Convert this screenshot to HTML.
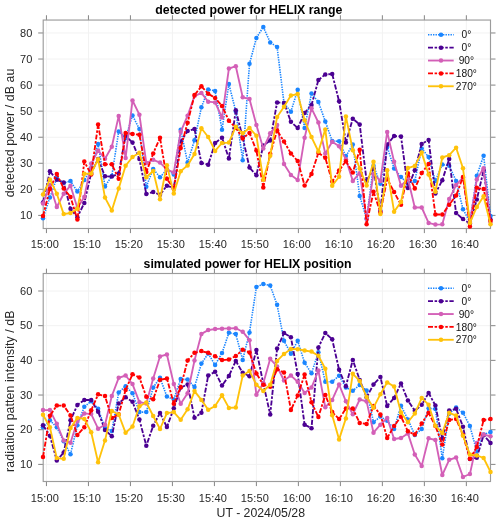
<!DOCTYPE html>
<html lang="en"><head><meta charset="utf-8"><title>HELIX power</title>
<style>html,body{margin:0;padding:0;background:#fff;}body{width:500px;height:523px;overflow:hidden;}svg{display:block;will-change:transform;}text{font-family:'Liberation Sans', Arial, Helvetica, sans-serif;fill:#262626;}.tk{font-size:11px;letter-spacing:0.15px;}.ti{font-size:12.3px;font-weight:bold;fill:#000;}.al{font-size:12.3px;}.lg{font-size:10.2px;fill:#111;}</style></head><body>
<svg width="500" height="523" viewBox="0 0 500 523">
<rect x="0" y="0" width="500" height="523" fill="#ffffff"/>
<g>
<path d="M46.45 20.05V228.50M88.44 20.05V228.50M130.43 20.05V228.50M172.42 20.05V228.50M214.41 20.05V228.50M256.40 20.05V228.50M298.39 20.05V228.50M340.38 20.05V228.50M382.37 20.05V228.50M424.36 20.05V228.50M466.35 20.05V228.50M43.20 215.40H490.50M43.20 189.34H490.50M43.20 163.28H490.50M43.20 137.22H490.50M43.20 111.16H490.50M43.20 85.10H490.50M43.20 59.04H490.50M43.20 32.98H490.50" stroke="#f2f2f2" stroke-width="1" fill="none"/>
<path d="M46.45 20.05v-4.8M46.45 228.50v4.6M88.44 20.05v-4.8M88.44 228.50v4.6M130.43 20.05v-4.8M130.43 228.50v4.6M172.42 20.05v-4.8M172.42 228.50v4.6M214.41 20.05v-4.8M214.41 228.50v4.6M256.40 20.05v-4.8M256.40 228.50v4.6M298.39 20.05v-4.8M298.39 228.50v4.6M340.38 20.05v-4.8M340.38 228.50v4.6M382.37 20.05v-4.8M382.37 228.50v4.6M424.36 20.05v-4.8M424.36 228.50v4.6M466.35 20.05v-4.8M466.35 228.50v4.6M43.20 215.40h-5M490.50 215.40h5M43.20 189.34h-5M490.50 189.34h5M43.20 163.28h-5M490.50 163.28h5M43.20 137.22h-5M490.50 137.22h5M43.20 111.16h-5M490.50 111.16h5M43.20 85.10h-5M490.50 85.10h5M43.20 59.04h-5M490.50 59.04h5M43.20 32.98h-5M490.50 32.98h5" stroke="#777777" stroke-width="0.9" fill="none"/>
<rect x="43.20" y="20.05" width="447.30" height="208.45" fill="none" stroke="#9c9c9c" stroke-width="1.15"/>
<polyline points="43.0,218.2 49.9,197.6 56.8,178.0 63.7,182.9 70.5,181.1 77.4,191.6 84.3,180.1 91.2,168.0 98.1,144.0 105.0,186.4 111.8,176.0 118.7,131.5 125.6,138.0 132.5,115.4 139.4,129.0 146.3,186.7 153.2,168.9 160.0,177.3 166.9,169.5 173.8,174.5 180.7,129.7 187.6,162.6 194.5,140.2 201.4,107.3 208.2,89.5 215.1,90.9 222.0,129.7 228.9,84.1 235.8,111.5 242.7,160.2 249.5,63.8 256.4,37.9 263.3,27.0 270.2,42.4 277.1,47.0 284.0,103.0 290.9,111.7 297.7,89.8 304.6,127.9 311.5,93.6 318.4,102.0 325.3,121.4 332.2,141.0 339.1,141.3 345.9,156.1 352.8,144.6 359.7,195.9 366.6,218.7 373.5,165.8 380.4,183.7 387.2,146.9 394.1,168.4 401.0,177.1 407.9,183.7 414.8,180.9 421.7,148.4 428.6,157.1 435.4,180.9 442.3,164.5 449.2,165.7 456.1,180.9 463.0,209.3 469.9,222.0 476.8,175.7 483.6,155.7 490.5,215.9" fill="none" stroke="#1A85FF" stroke-width="1.60" stroke-linejoin="round" stroke-dasharray="1.4 1.1"/>
<g fill="#1A85FF"><circle cx="43.0" cy="218.2" r="2.25"/><circle cx="49.9" cy="197.6" r="2.25"/><circle cx="56.8" cy="178.0" r="2.25"/><circle cx="63.7" cy="182.9" r="2.25"/><circle cx="70.5" cy="181.1" r="2.25"/><circle cx="77.4" cy="191.6" r="2.25"/><circle cx="84.3" cy="180.1" r="2.25"/><circle cx="91.2" cy="168.0" r="2.25"/><circle cx="98.1" cy="144.0" r="2.25"/><circle cx="105.0" cy="186.4" r="2.25"/><circle cx="111.8" cy="176.0" r="2.25"/><circle cx="118.7" cy="131.5" r="2.25"/><circle cx="125.6" cy="138.0" r="2.25"/><circle cx="132.5" cy="115.4" r="2.25"/><circle cx="139.4" cy="129.0" r="2.25"/><circle cx="146.3" cy="186.7" r="2.25"/><circle cx="153.2" cy="168.9" r="2.25"/><circle cx="160.0" cy="177.3" r="2.25"/><circle cx="166.9" cy="169.5" r="2.25"/><circle cx="173.8" cy="174.5" r="2.25"/><circle cx="180.7" cy="129.7" r="2.25"/><circle cx="187.6" cy="162.6" r="2.25"/><circle cx="194.5" cy="140.2" r="2.25"/><circle cx="201.4" cy="107.3" r="2.25"/><circle cx="208.2" cy="89.5" r="2.25"/><circle cx="215.1" cy="90.9" r="2.25"/><circle cx="222.0" cy="129.7" r="2.25"/><circle cx="228.9" cy="84.1" r="2.25"/><circle cx="235.8" cy="111.5" r="2.25"/><circle cx="242.7" cy="160.2" r="2.25"/><circle cx="249.5" cy="63.8" r="2.25"/><circle cx="256.4" cy="37.9" r="2.25"/><circle cx="263.3" cy="27.0" r="2.25"/><circle cx="270.2" cy="42.4" r="2.25"/><circle cx="277.1" cy="47.0" r="2.25"/><circle cx="284.0" cy="103.0" r="2.25"/><circle cx="290.9" cy="111.7" r="2.25"/><circle cx="297.7" cy="89.8" r="2.25"/><circle cx="304.6" cy="127.9" r="2.25"/><circle cx="311.5" cy="93.6" r="2.25"/><circle cx="318.4" cy="102.0" r="2.25"/><circle cx="325.3" cy="121.4" r="2.25"/><circle cx="332.2" cy="141.0" r="2.25"/><circle cx="339.1" cy="141.3" r="2.25"/><circle cx="345.9" cy="156.1" r="2.25"/><circle cx="352.8" cy="144.6" r="2.25"/><circle cx="359.7" cy="195.9" r="2.25"/><circle cx="366.6" cy="218.7" r="2.25"/><circle cx="373.5" cy="165.8" r="2.25"/><circle cx="380.4" cy="183.7" r="2.25"/><circle cx="387.2" cy="146.9" r="2.25"/><circle cx="394.1" cy="168.4" r="2.25"/><circle cx="401.0" cy="177.1" r="2.25"/><circle cx="407.9" cy="183.7" r="2.25"/><circle cx="414.8" cy="180.9" r="2.25"/><circle cx="421.7" cy="148.4" r="2.25"/><circle cx="428.6" cy="157.1" r="2.25"/><circle cx="435.4" cy="180.9" r="2.25"/><circle cx="442.3" cy="164.5" r="2.25"/><circle cx="449.2" cy="165.7" r="2.25"/><circle cx="456.1" cy="180.9" r="2.25"/><circle cx="463.0" cy="209.3" r="2.25"/><circle cx="469.9" cy="222.0" r="2.25"/><circle cx="476.8" cy="175.7" r="2.25"/><circle cx="483.6" cy="155.7" r="2.25"/><circle cx="490.5" cy="215.9" r="2.25"/></g>
<polyline points="43.0,202.5 49.9,171.3 56.8,179.8 63.7,182.6 70.5,208.8 77.4,217.2 84.3,202.9 91.2,173.0 98.1,159.0 105.0,176.3 111.8,176.6 118.7,173.5 125.6,135.8 132.5,142.5 139.4,159.0 146.3,194.1 153.2,192.0 160.0,194.8 166.9,185.7 173.8,188.0 180.7,141.6 187.6,131.1 194.5,129.0 201.4,162.9 208.2,164.7 215.1,143.0 222.0,137.7 228.9,158.5 235.8,110.2 242.7,137.6 249.5,167.6 256.4,175.2 263.3,145.4 270.2,140.6 277.1,102.5 284.0,102.9 290.9,121.8 297.7,128.0 304.6,112.9 311.5,105.1 318.4,80.0 325.3,74.4 332.2,74.0 339.1,101.3 345.9,142.4 352.8,118.7 359.7,124.5 366.6,180.9 373.5,168.5 380.4,211.0 387.2,144.5 394.1,136.1 401.0,136.4 407.9,187.9 414.8,170.3 421.7,143.9 428.6,140.0 435.4,193.5 442.3,180.2 449.2,158.9 456.1,213.1 463.0,219.1 469.9,223.6 476.8,199.6 483.6,170.4 490.5,219.4" fill="none" stroke="#4B0092" stroke-width="1.85" stroke-linejoin="round" stroke-dasharray="5 1.6 2.5 1.6"/>
<g fill="#4B0092"><circle cx="43.0" cy="202.5" r="2.25"/><circle cx="49.9" cy="171.3" r="2.25"/><circle cx="56.8" cy="179.8" r="2.25"/><circle cx="63.7" cy="182.6" r="2.25"/><circle cx="70.5" cy="208.8" r="2.25"/><circle cx="77.4" cy="217.2" r="2.25"/><circle cx="84.3" cy="202.9" r="2.25"/><circle cx="91.2" cy="173.0" r="2.25"/><circle cx="98.1" cy="159.0" r="2.25"/><circle cx="105.0" cy="176.3" r="2.25"/><circle cx="111.8" cy="176.6" r="2.25"/><circle cx="118.7" cy="173.5" r="2.25"/><circle cx="125.6" cy="135.8" r="2.25"/><circle cx="132.5" cy="142.5" r="2.25"/><circle cx="139.4" cy="159.0" r="2.25"/><circle cx="146.3" cy="194.1" r="2.25"/><circle cx="153.2" cy="192.0" r="2.25"/><circle cx="160.0" cy="194.8" r="2.25"/><circle cx="166.9" cy="185.7" r="2.25"/><circle cx="173.8" cy="188.0" r="2.25"/><circle cx="180.7" cy="141.6" r="2.25"/><circle cx="187.6" cy="131.1" r="2.25"/><circle cx="194.5" cy="129.0" r="2.25"/><circle cx="201.4" cy="162.9" r="2.25"/><circle cx="208.2" cy="164.7" r="2.25"/><circle cx="215.1" cy="143.0" r="2.25"/><circle cx="222.0" cy="137.7" r="2.25"/><circle cx="228.9" cy="158.5" r="2.25"/><circle cx="235.8" cy="110.2" r="2.25"/><circle cx="242.7" cy="137.6" r="2.25"/><circle cx="249.5" cy="167.6" r="2.25"/><circle cx="256.4" cy="175.2" r="2.25"/><circle cx="263.3" cy="145.4" r="2.25"/><circle cx="270.2" cy="140.6" r="2.25"/><circle cx="277.1" cy="102.5" r="2.25"/><circle cx="284.0" cy="102.9" r="2.25"/><circle cx="290.9" cy="121.8" r="2.25"/><circle cx="297.7" cy="128.0" r="2.25"/><circle cx="304.6" cy="112.9" r="2.25"/><circle cx="311.5" cy="105.1" r="2.25"/><circle cx="318.4" cy="80.0" r="2.25"/><circle cx="325.3" cy="74.4" r="2.25"/><circle cx="332.2" cy="74.0" r="2.25"/><circle cx="339.1" cy="101.3" r="2.25"/><circle cx="345.9" cy="142.4" r="2.25"/><circle cx="352.8" cy="118.7" r="2.25"/><circle cx="359.7" cy="124.5" r="2.25"/><circle cx="366.6" cy="180.9" r="2.25"/><circle cx="373.5" cy="168.5" r="2.25"/><circle cx="380.4" cy="211.0" r="2.25"/><circle cx="387.2" cy="144.5" r="2.25"/><circle cx="394.1" cy="136.1" r="2.25"/><circle cx="401.0" cy="136.4" r="2.25"/><circle cx="407.9" cy="187.9" r="2.25"/><circle cx="414.8" cy="170.3" r="2.25"/><circle cx="421.7" cy="143.9" r="2.25"/><circle cx="428.6" cy="140.0" r="2.25"/><circle cx="435.4" cy="193.5" r="2.25"/><circle cx="442.3" cy="180.2" r="2.25"/><circle cx="449.2" cy="158.9" r="2.25"/><circle cx="456.1" cy="213.1" r="2.25"/><circle cx="463.0" cy="219.1" r="2.25"/><circle cx="469.9" cy="223.6" r="2.25"/><circle cx="476.8" cy="199.6" r="2.25"/><circle cx="483.6" cy="170.4" r="2.25"/><circle cx="490.5" cy="219.4" r="2.25"/></g>
<polyline points="43.0,203.5 49.9,185.0 56.8,207.0 63.7,193.7 70.5,185.7 77.4,208.1 84.3,196.9 91.2,163.6 98.1,150.7 105.0,158.7 111.8,146.8 118.7,115.9 125.6,157.9 132.5,100.5 139.4,114.7 146.3,163.0 153.2,159.8 160.0,162.6 166.9,169.6 173.8,172.4 180.7,131.8 187.6,115.7 194.5,96.1 201.4,92.9 208.2,101.7 215.1,102.4 222.0,117.5 228.9,68.6 235.8,66.2 242.7,97.3 249.5,99.0 256.4,124.9 263.3,148.5 270.2,133.3 277.1,124.9 284.0,164.0 290.9,174.9 297.7,179.9 304.6,137.8 311.5,108.3 318.4,122.5 325.3,153.6 332.2,141.7 339.1,146.3 345.9,159.2 352.8,180.9 359.7,173.2 366.6,218.7 373.5,173.9 380.4,180.9 387.2,131.9 394.1,161.7 401.0,185.8 407.9,178.8 414.8,207.5 421.7,207.5 428.6,222.9 435.4,224.6 442.3,224.3 449.2,199.1 456.1,185.1 463.0,177.4 469.9,222.0 476.8,179.5 483.6,168.3 490.5,222.0" fill="none" stroke="#D35FB7" stroke-width="1.85" stroke-linejoin="round"/>
<g fill="#D35FB7"><circle cx="43.0" cy="203.5" r="2.25"/><circle cx="49.9" cy="185.0" r="2.25"/><circle cx="56.8" cy="207.0" r="2.25"/><circle cx="63.7" cy="193.7" r="2.25"/><circle cx="70.5" cy="185.7" r="2.25"/><circle cx="77.4" cy="208.1" r="2.25"/><circle cx="84.3" cy="196.9" r="2.25"/><circle cx="91.2" cy="163.6" r="2.25"/><circle cx="98.1" cy="150.7" r="2.25"/><circle cx="105.0" cy="158.7" r="2.25"/><circle cx="111.8" cy="146.8" r="2.25"/><circle cx="118.7" cy="115.9" r="2.25"/><circle cx="125.6" cy="157.9" r="2.25"/><circle cx="132.5" cy="100.5" r="2.25"/><circle cx="139.4" cy="114.7" r="2.25"/><circle cx="146.3" cy="163.0" r="2.25"/><circle cx="153.2" cy="159.8" r="2.25"/><circle cx="160.0" cy="162.6" r="2.25"/><circle cx="166.9" cy="169.6" r="2.25"/><circle cx="173.8" cy="172.4" r="2.25"/><circle cx="180.7" cy="131.8" r="2.25"/><circle cx="187.6" cy="115.7" r="2.25"/><circle cx="194.5" cy="96.1" r="2.25"/><circle cx="201.4" cy="92.9" r="2.25"/><circle cx="208.2" cy="101.7" r="2.25"/><circle cx="215.1" cy="102.4" r="2.25"/><circle cx="222.0" cy="117.5" r="2.25"/><circle cx="228.9" cy="68.6" r="2.25"/><circle cx="235.8" cy="66.2" r="2.25"/><circle cx="242.7" cy="97.3" r="2.25"/><circle cx="249.5" cy="99.0" r="2.25"/><circle cx="256.4" cy="124.9" r="2.25"/><circle cx="263.3" cy="148.5" r="2.25"/><circle cx="270.2" cy="133.3" r="2.25"/><circle cx="277.1" cy="124.9" r="2.25"/><circle cx="284.0" cy="164.0" r="2.25"/><circle cx="290.9" cy="174.9" r="2.25"/><circle cx="297.7" cy="179.9" r="2.25"/><circle cx="304.6" cy="137.8" r="2.25"/><circle cx="311.5" cy="108.3" r="2.25"/><circle cx="318.4" cy="122.5" r="2.25"/><circle cx="325.3" cy="153.6" r="2.25"/><circle cx="332.2" cy="141.7" r="2.25"/><circle cx="339.1" cy="146.3" r="2.25"/><circle cx="345.9" cy="159.2" r="2.25"/><circle cx="352.8" cy="180.9" r="2.25"/><circle cx="359.7" cy="173.2" r="2.25"/><circle cx="366.6" cy="218.7" r="2.25"/><circle cx="373.5" cy="173.9" r="2.25"/><circle cx="380.4" cy="180.9" r="2.25"/><circle cx="387.2" cy="131.9" r="2.25"/><circle cx="394.1" cy="161.7" r="2.25"/><circle cx="401.0" cy="185.8" r="2.25"/><circle cx="407.9" cy="178.8" r="2.25"/><circle cx="414.8" cy="207.5" r="2.25"/><circle cx="421.7" cy="207.5" r="2.25"/><circle cx="428.6" cy="222.9" r="2.25"/><circle cx="435.4" cy="224.6" r="2.25"/><circle cx="442.3" cy="224.3" r="2.25"/><circle cx="449.2" cy="199.1" r="2.25"/><circle cx="456.1" cy="185.1" r="2.25"/><circle cx="463.0" cy="177.4" r="2.25"/><circle cx="469.9" cy="222.0" r="2.25"/><circle cx="476.8" cy="179.5" r="2.25"/><circle cx="483.6" cy="168.3" r="2.25"/><circle cx="490.5" cy="222.0" r="2.25"/></g>
<polyline points="43.0,216.1 49.9,188.9 56.8,174.1 63.7,188.5 70.5,196.9 77.4,219.6 84.3,161.6 91.2,174.5 98.1,124.4 105.0,164.3 111.8,164.3 118.7,178.7 125.6,133.1 132.5,133.9 139.4,134.7 146.3,172.0 153.2,153.5 160.0,137.8 166.9,178.7 173.8,189.0 180.7,147.9 187.6,122.7 194.5,95.1 201.4,86.3 208.2,93.7 215.1,97.9 222.0,105.9 228.9,120.8 235.8,127.7 242.7,138.5 249.5,133.0 256.4,150.6 263.3,187.5 270.2,153.8 277.1,130.5 284.0,141.5 290.9,153.5 297.7,161.0 304.6,185.5 311.5,173.9 318.4,152.9 325.3,157.8 332.2,181.6 339.1,170.4 345.9,161.3 352.8,172.5 359.7,149.7 366.6,224.3 373.5,191.7 380.4,212.4 387.2,178.8 394.1,192.1 401.0,204.7 407.9,173.2 414.8,188.6 421.7,173.0 428.6,164.0 435.4,214.5 442.3,214.5 449.2,204.7 456.1,195.6 463.0,176.9 469.9,226.4 476.8,187.8 483.6,189.0 490.5,220.8" fill="none" stroke="#FF0000" stroke-width="1.85" stroke-linejoin="round" stroke-dasharray="5 1.6 2.5 1.6"/>
<g fill="#FF0000"><circle cx="43.0" cy="216.1" r="2.25"/><circle cx="49.9" cy="188.9" r="2.25"/><circle cx="56.8" cy="174.1" r="2.25"/><circle cx="63.7" cy="188.5" r="2.25"/><circle cx="70.5" cy="196.9" r="2.25"/><circle cx="77.4" cy="219.6" r="2.25"/><circle cx="84.3" cy="161.6" r="2.25"/><circle cx="91.2" cy="174.5" r="2.25"/><circle cx="98.1" cy="124.4" r="2.25"/><circle cx="105.0" cy="164.3" r="2.25"/><circle cx="111.8" cy="164.3" r="2.25"/><circle cx="118.7" cy="178.7" r="2.25"/><circle cx="125.6" cy="133.1" r="2.25"/><circle cx="132.5" cy="133.9" r="2.25"/><circle cx="139.4" cy="134.7" r="2.25"/><circle cx="146.3" cy="172.0" r="2.25"/><circle cx="153.2" cy="153.5" r="2.25"/><circle cx="160.0" cy="137.8" r="2.25"/><circle cx="166.9" cy="178.7" r="2.25"/><circle cx="173.8" cy="189.0" r="2.25"/><circle cx="180.7" cy="147.9" r="2.25"/><circle cx="187.6" cy="122.7" r="2.25"/><circle cx="194.5" cy="95.1" r="2.25"/><circle cx="201.4" cy="86.3" r="2.25"/><circle cx="208.2" cy="93.7" r="2.25"/><circle cx="215.1" cy="97.9" r="2.25"/><circle cx="222.0" cy="105.9" r="2.25"/><circle cx="228.9" cy="120.8" r="2.25"/><circle cx="235.8" cy="127.7" r="2.25"/><circle cx="242.7" cy="138.5" r="2.25"/><circle cx="249.5" cy="133.0" r="2.25"/><circle cx="256.4" cy="150.6" r="2.25"/><circle cx="263.3" cy="187.5" r="2.25"/><circle cx="270.2" cy="153.8" r="2.25"/><circle cx="277.1" cy="130.5" r="2.25"/><circle cx="284.0" cy="141.5" r="2.25"/><circle cx="290.9" cy="153.5" r="2.25"/><circle cx="297.7" cy="161.0" r="2.25"/><circle cx="304.6" cy="185.5" r="2.25"/><circle cx="311.5" cy="173.9" r="2.25"/><circle cx="318.4" cy="152.9" r="2.25"/><circle cx="325.3" cy="157.8" r="2.25"/><circle cx="332.2" cy="181.6" r="2.25"/><circle cx="339.1" cy="170.4" r="2.25"/><circle cx="345.9" cy="161.3" r="2.25"/><circle cx="352.8" cy="172.5" r="2.25"/><circle cx="359.7" cy="149.7" r="2.25"/><circle cx="366.6" cy="224.3" r="2.25"/><circle cx="373.5" cy="191.7" r="2.25"/><circle cx="380.4" cy="212.4" r="2.25"/><circle cx="387.2" cy="178.8" r="2.25"/><circle cx="394.1" cy="192.1" r="2.25"/><circle cx="401.0" cy="204.7" r="2.25"/><circle cx="407.9" cy="173.2" r="2.25"/><circle cx="414.8" cy="188.6" r="2.25"/><circle cx="421.7" cy="173.0" r="2.25"/><circle cx="428.6" cy="164.0" r="2.25"/><circle cx="435.4" cy="214.5" r="2.25"/><circle cx="442.3" cy="214.5" r="2.25"/><circle cx="449.2" cy="204.7" r="2.25"/><circle cx="456.1" cy="195.6" r="2.25"/><circle cx="463.0" cy="176.9" r="2.25"/><circle cx="469.9" cy="226.4" r="2.25"/><circle cx="476.8" cy="187.8" r="2.25"/><circle cx="483.6" cy="189.0" r="2.25"/><circle cx="490.5" cy="220.8" r="2.25"/></g>
<polyline points="43.0,194.5 49.9,179.4 56.8,193.7 63.7,214.1 70.5,213.0 77.4,208.8 84.3,173.8 91.2,173.5 98.1,159.3 105.0,197.6 111.8,210.5 118.7,188.5 125.6,165.8 132.5,157.0 139.4,152.8 146.3,177.3 153.2,171.0 160.0,199.3 166.9,165.2 173.8,193.4 180.7,171.3 187.6,165.4 194.5,154.0 201.4,128.3 208.2,137.0 215.1,150.9 222.0,143.0 228.9,142.6 235.8,126.7 242.7,133.3 249.5,128.1 256.4,135.7 263.3,179.8 270.2,155.8 277.1,116.9 284.0,106.7 290.9,95.6 297.7,94.0 304.6,120.3 311.5,137.1 318.4,151.5 325.3,129.4 332.2,185.8 339.1,176.7 345.9,116.4 352.8,150.2 359.7,168.4 366.6,185.5 373.5,161.7 380.4,214.1 387.2,170.2 394.1,211.7 401.0,201.9 407.9,168.1 414.8,165.9 421.7,152.6 428.6,174.6 435.4,191.7 442.3,157.5 449.2,155.2 456.1,147.7 463.0,168.3 469.9,222.9 476.8,207.0 483.6,196.3 490.5,224.3" fill="none" stroke="#FFC20A" stroke-width="1.85" stroke-linejoin="round"/>
<g fill="#FFC20A"><circle cx="43.0" cy="194.5" r="2.25"/><circle cx="49.9" cy="179.4" r="2.25"/><circle cx="56.8" cy="193.7" r="2.25"/><circle cx="63.7" cy="214.1" r="2.25"/><circle cx="70.5" cy="213.0" r="2.25"/><circle cx="77.4" cy="208.8" r="2.25"/><circle cx="84.3" cy="173.8" r="2.25"/><circle cx="91.2" cy="173.5" r="2.25"/><circle cx="98.1" cy="159.3" r="2.25"/><circle cx="105.0" cy="197.6" r="2.25"/><circle cx="111.8" cy="210.5" r="2.25"/><circle cx="118.7" cy="188.5" r="2.25"/><circle cx="125.6" cy="165.8" r="2.25"/><circle cx="132.5" cy="157.0" r="2.25"/><circle cx="139.4" cy="152.8" r="2.25"/><circle cx="146.3" cy="177.3" r="2.25"/><circle cx="153.2" cy="171.0" r="2.25"/><circle cx="160.0" cy="199.3" r="2.25"/><circle cx="166.9" cy="165.2" r="2.25"/><circle cx="173.8" cy="193.4" r="2.25"/><circle cx="180.7" cy="171.3" r="2.25"/><circle cx="187.6" cy="165.4" r="2.25"/><circle cx="194.5" cy="154.0" r="2.25"/><circle cx="201.4" cy="128.3" r="2.25"/><circle cx="208.2" cy="137.0" r="2.25"/><circle cx="215.1" cy="150.9" r="2.25"/><circle cx="222.0" cy="143.0" r="2.25"/><circle cx="228.9" cy="142.6" r="2.25"/><circle cx="235.8" cy="126.7" r="2.25"/><circle cx="242.7" cy="133.3" r="2.25"/><circle cx="249.5" cy="128.1" r="2.25"/><circle cx="256.4" cy="135.7" r="2.25"/><circle cx="263.3" cy="179.8" r="2.25"/><circle cx="270.2" cy="155.8" r="2.25"/><circle cx="277.1" cy="116.9" r="2.25"/><circle cx="284.0" cy="106.7" r="2.25"/><circle cx="290.9" cy="95.6" r="2.25"/><circle cx="297.7" cy="94.0" r="2.25"/><circle cx="304.6" cy="120.3" r="2.25"/><circle cx="311.5" cy="137.1" r="2.25"/><circle cx="318.4" cy="151.5" r="2.25"/><circle cx="325.3" cy="129.4" r="2.25"/><circle cx="332.2" cy="185.8" r="2.25"/><circle cx="339.1" cy="176.7" r="2.25"/><circle cx="345.9" cy="116.4" r="2.25"/><circle cx="352.8" cy="150.2" r="2.25"/><circle cx="359.7" cy="168.4" r="2.25"/><circle cx="366.6" cy="185.5" r="2.25"/><circle cx="373.5" cy="161.7" r="2.25"/><circle cx="380.4" cy="214.1" r="2.25"/><circle cx="387.2" cy="170.2" r="2.25"/><circle cx="394.1" cy="211.7" r="2.25"/><circle cx="401.0" cy="201.9" r="2.25"/><circle cx="407.9" cy="168.1" r="2.25"/><circle cx="414.8" cy="165.9" r="2.25"/><circle cx="421.7" cy="152.6" r="2.25"/><circle cx="428.6" cy="174.6" r="2.25"/><circle cx="435.4" cy="191.7" r="2.25"/><circle cx="442.3" cy="157.5" r="2.25"/><circle cx="449.2" cy="155.2" r="2.25"/><circle cx="456.1" cy="147.7" r="2.25"/><circle cx="463.0" cy="168.3" r="2.25"/><circle cx="469.9" cy="222.9" r="2.25"/><circle cx="476.8" cy="207.0" r="2.25"/><circle cx="483.6" cy="196.3" r="2.25"/><circle cx="490.5" cy="224.3" r="2.25"/></g>
<text class="tk" x="32.5" y="219.10" text-anchor="end">10</text>
<text class="tk" x="32.5" y="193.04" text-anchor="end">20</text>
<text class="tk" x="32.5" y="166.98" text-anchor="end">30</text>
<text class="tk" x="32.5" y="140.92" text-anchor="end">40</text>
<text class="tk" x="32.5" y="114.86" text-anchor="end">50</text>
<text class="tk" x="32.5" y="88.80" text-anchor="end">60</text>
<text class="tk" x="32.5" y="62.74" text-anchor="end">70</text>
<text class="tk" x="32.5" y="36.68" text-anchor="end">80</text>
<text class="tk" x="44.95" y="248.00" text-anchor="middle">15:00</text>
<text class="tk" x="86.94" y="248.00" text-anchor="middle">15:10</text>
<text class="tk" x="128.93" y="248.00" text-anchor="middle">15:20</text>
<text class="tk" x="170.92" y="248.00" text-anchor="middle">15:30</text>
<text class="tk" x="212.91" y="248.00" text-anchor="middle">15:40</text>
<text class="tk" x="254.90" y="248.00" text-anchor="middle">15:50</text>
<text class="tk" x="296.89" y="248.00" text-anchor="middle">16:00</text>
<text class="tk" x="338.88" y="248.00" text-anchor="middle">16:10</text>
<text class="tk" x="380.87" y="248.00" text-anchor="middle">16:20</text>
<text class="tk" x="422.86" y="248.00" text-anchor="middle">16:30</text>
<text class="tk" x="464.85" y="248.00" text-anchor="middle">16:40</text>
<text class="ti" x="155.30" y="14.40" textLength="187.0" lengthAdjust="spacing">detected power for HELIX range</text>
<text class="al" transform="translate(14.10 133.05) rotate(-90)" x="-64.30" y="0" textLength="128.6" lengthAdjust="spacing">detected power / dB au</text>
<path d="M428.0 34.80H453.7" stroke="#1A85FF" stroke-width="1.60" fill="none" stroke-dasharray="1.4 1.1"/>
<circle cx="441.0" cy="34.80" r="2.25" fill="#1A85FF"/>
<text class="lg" x="466.4" y="38.45" text-anchor="middle">0°</text>
<path d="M428.0 47.67H453.7" stroke="#4B0092" stroke-width="1.85" fill="none" stroke-dasharray="5 1.6 2.5 1.6"/>
<circle cx="441.0" cy="47.67" r="2.25" fill="#4B0092"/>
<text class="lg" x="466.4" y="51.32" text-anchor="middle">0°</text>
<path d="M428.0 60.54H453.7" stroke="#D35FB7" stroke-width="1.85" fill="none"/>
<circle cx="441.0" cy="60.54" r="2.25" fill="#D35FB7"/>
<text class="lg" x="466.4" y="64.19" text-anchor="middle">90°</text>
<path d="M428.0 73.41H453.7" stroke="#FF0000" stroke-width="1.85" fill="none" stroke-dasharray="5 1.6 2.5 1.6"/>
<circle cx="441.0" cy="73.41" r="2.25" fill="#FF0000"/>
<text class="lg" x="466.4" y="77.06" text-anchor="middle">180°</text>
<path d="M428.0 86.28H453.7" stroke="#FFC20A" stroke-width="1.85" fill="none"/>
<circle cx="441.0" cy="86.28" r="2.25" fill="#FFC20A"/>
<text class="lg" x="466.4" y="89.93" text-anchor="middle">270°</text>
</g>
<g>
<path d="M46.45 273.50V481.50M88.44 273.50V481.50M130.43 273.50V481.50M172.42 273.50V481.50M214.41 273.50V481.50M256.40 273.50V481.50M298.39 273.50V481.50M340.38 273.50V481.50M382.37 273.50V481.50M424.36 273.50V481.50M466.35 273.50V481.50M43.20 464.40H490.50M43.20 429.72H490.50M43.20 395.04H490.50M43.20 360.36H490.50M43.20 325.68H490.50M43.20 291.00H490.50" stroke="#f2f2f2" stroke-width="1" fill="none"/>
<path d="M46.45 273.50v-4.8M46.45 481.50v4.6M88.44 273.50v-4.8M88.44 481.50v4.6M130.43 273.50v-4.8M130.43 481.50v4.6M172.42 273.50v-4.8M172.42 481.50v4.6M214.41 273.50v-4.8M214.41 481.50v4.6M256.40 273.50v-4.8M256.40 481.50v4.6M298.39 273.50v-4.8M298.39 481.50v4.6M340.38 273.50v-4.8M340.38 481.50v4.6M382.37 273.50v-4.8M382.37 481.50v4.6M424.36 273.50v-4.8M424.36 481.50v4.6M466.35 273.50v-4.8M466.35 481.50v4.6M43.20 464.40h-5M490.50 464.40h5M43.20 429.72h-5M490.50 429.72h5M43.20 395.04h-5M490.50 395.04h5M43.20 360.36h-5M490.50 360.36h5M43.20 325.68h-5M490.50 325.68h5M43.20 291.00h-5M490.50 291.00h5" stroke="#777777" stroke-width="0.9" fill="none"/>
<rect x="43.20" y="273.50" width="447.30" height="208.00" fill="none" stroke="#9c9c9c" stroke-width="1.15"/>
<polyline points="43.0,427.3 49.9,420.3 56.8,427.3 63.7,441.3 70.5,454.3 77.4,425.2 84.3,406.8 91.2,401.2 98.1,408.7 105.0,428.0 111.8,431.1 118.7,392.5 125.6,386.2 132.5,393.2 139.4,412.1 146.3,412.1 153.2,387.5 160.0,377.7 166.9,396.6 173.8,399.5 180.7,379.0 187.6,379.6 194.5,387.0 201.4,363.6 208.2,353.5 215.1,365.1 222.0,353.1 228.9,332.8 235.8,334.1 242.7,359.9 249.5,332.4 256.4,286.9 263.3,284.1 270.2,285.5 277.1,304.8 284.0,340.8 290.9,353.8 297.7,340.7 304.6,362.8 311.5,373.3 318.4,352.3 325.3,381.8 332.2,381.7 339.1,375.7 345.9,387.5 352.8,390.7 359.7,385.1 366.6,390.4 373.5,422.2 380.4,416.6 387.2,420.8 394.1,428.9 401.0,405.7 407.9,419.4 414.8,435.0 421.7,429.0 428.6,408.3 435.4,409.0 442.3,458.2 449.2,413.8 456.1,407.5 463.0,412.8 469.9,426.0 476.8,451.6 483.6,434.5 490.5,432.1" fill="none" stroke="#1A85FF" stroke-width="1.60" stroke-linejoin="round" stroke-dasharray="1.4 1.1"/>
<g fill="#1A85FF"><circle cx="43.0" cy="427.3" r="2.25"/><circle cx="49.9" cy="420.3" r="2.25"/><circle cx="56.8" cy="427.3" r="2.25"/><circle cx="63.7" cy="441.3" r="2.25"/><circle cx="70.5" cy="454.3" r="2.25"/><circle cx="77.4" cy="425.2" r="2.25"/><circle cx="84.3" cy="406.8" r="2.25"/><circle cx="91.2" cy="401.2" r="2.25"/><circle cx="98.1" cy="408.7" r="2.25"/><circle cx="105.0" cy="428.0" r="2.25"/><circle cx="111.8" cy="431.1" r="2.25"/><circle cx="118.7" cy="392.5" r="2.25"/><circle cx="125.6" cy="386.2" r="2.25"/><circle cx="132.5" cy="393.2" r="2.25"/><circle cx="139.4" cy="412.1" r="2.25"/><circle cx="146.3" cy="412.1" r="2.25"/><circle cx="153.2" cy="387.5" r="2.25"/><circle cx="160.0" cy="377.7" r="2.25"/><circle cx="166.9" cy="396.6" r="2.25"/><circle cx="173.8" cy="399.5" r="2.25"/><circle cx="180.7" cy="379.0" r="2.25"/><circle cx="187.6" cy="379.6" r="2.25"/><circle cx="194.5" cy="387.0" r="2.25"/><circle cx="201.4" cy="363.6" r="2.25"/><circle cx="208.2" cy="353.5" r="2.25"/><circle cx="215.1" cy="365.1" r="2.25"/><circle cx="222.0" cy="353.1" r="2.25"/><circle cx="228.9" cy="332.8" r="2.25"/><circle cx="235.8" cy="334.1" r="2.25"/><circle cx="242.7" cy="359.9" r="2.25"/><circle cx="249.5" cy="332.4" r="2.25"/><circle cx="256.4" cy="286.9" r="2.25"/><circle cx="263.3" cy="284.1" r="2.25"/><circle cx="270.2" cy="285.5" r="2.25"/><circle cx="277.1" cy="304.8" r="2.25"/><circle cx="284.0" cy="340.8" r="2.25"/><circle cx="290.9" cy="353.8" r="2.25"/><circle cx="297.7" cy="340.7" r="2.25"/><circle cx="304.6" cy="362.8" r="2.25"/><circle cx="311.5" cy="373.3" r="2.25"/><circle cx="318.4" cy="352.3" r="2.25"/><circle cx="325.3" cy="381.8" r="2.25"/><circle cx="332.2" cy="381.7" r="2.25"/><circle cx="339.1" cy="375.7" r="2.25"/><circle cx="345.9" cy="387.5" r="2.25"/><circle cx="352.8" cy="390.7" r="2.25"/><circle cx="359.7" cy="385.1" r="2.25"/><circle cx="366.6" cy="390.4" r="2.25"/><circle cx="373.5" cy="422.2" r="2.25"/><circle cx="380.4" cy="416.6" r="2.25"/><circle cx="387.2" cy="420.8" r="2.25"/><circle cx="394.1" cy="428.9" r="2.25"/><circle cx="401.0" cy="405.7" r="2.25"/><circle cx="407.9" cy="419.4" r="2.25"/><circle cx="414.8" cy="435.0" r="2.25"/><circle cx="421.7" cy="429.0" r="2.25"/><circle cx="428.6" cy="408.3" r="2.25"/><circle cx="435.4" cy="409.0" r="2.25"/><circle cx="442.3" cy="458.2" r="2.25"/><circle cx="449.2" cy="413.8" r="2.25"/><circle cx="456.1" cy="407.5" r="2.25"/><circle cx="463.0" cy="412.8" r="2.25"/><circle cx="469.9" cy="426.0" r="2.25"/><circle cx="476.8" cy="451.6" r="2.25"/><circle cx="483.6" cy="434.5" r="2.25"/><circle cx="490.5" cy="432.1" r="2.25"/></g>
<polyline points="43.0,425.2 49.9,435.7 56.8,460.5 63.7,452.5 70.5,420.3 77.4,404.9 84.3,400.0 91.2,400.0 98.1,411.7 105.0,430.0 111.8,436.3 118.7,403.4 125.6,397.3 132.5,401.8 139.4,419.5 146.3,445.7 153.2,425.8 160.0,412.9 166.9,427.1 173.8,408.3 180.7,387.6 187.6,384.5 194.5,417.7 201.4,412.8 208.2,375.6 215.1,371.7 222.0,385.6 228.9,376.0 235.8,360.9 242.7,372.8 249.5,376.3 256.4,350.1 263.3,383.5 270.2,414.5 277.1,348.6 284.0,333.1 290.9,337.2 297.7,374.0 304.6,424.7 311.5,428.2 318.4,347.4 325.3,333.0 332.2,339.3 339.1,369.8 345.9,386.2 352.8,360.0 359.7,379.9 366.6,397.4 373.5,384.5 380.4,377.1 387.2,406.0 394.1,397.9 401.0,383.4 407.9,400.5 414.8,410.7 421.7,404.8 428.6,392.9 435.4,405.5 442.3,438.6 449.2,410.5 456.1,408.8 463.0,426.7 469.9,459.0 476.8,457.7 483.6,435.2 490.5,442.9" fill="none" stroke="#4B0092" stroke-width="1.85" stroke-linejoin="round" stroke-dasharray="5 1.6 2.5 1.6"/>
<g fill="#4B0092"><circle cx="43.0" cy="425.2" r="2.25"/><circle cx="49.9" cy="435.7" r="2.25"/><circle cx="56.8" cy="460.5" r="2.25"/><circle cx="63.7" cy="452.5" r="2.25"/><circle cx="70.5" cy="420.3" r="2.25"/><circle cx="77.4" cy="404.9" r="2.25"/><circle cx="84.3" cy="400.0" r="2.25"/><circle cx="91.2" cy="400.0" r="2.25"/><circle cx="98.1" cy="411.7" r="2.25"/><circle cx="105.0" cy="430.0" r="2.25"/><circle cx="111.8" cy="436.3" r="2.25"/><circle cx="118.7" cy="403.4" r="2.25"/><circle cx="125.6" cy="397.3" r="2.25"/><circle cx="132.5" cy="401.8" r="2.25"/><circle cx="139.4" cy="419.5" r="2.25"/><circle cx="146.3" cy="445.7" r="2.25"/><circle cx="153.2" cy="425.8" r="2.25"/><circle cx="160.0" cy="412.9" r="2.25"/><circle cx="166.9" cy="427.1" r="2.25"/><circle cx="173.8" cy="408.3" r="2.25"/><circle cx="180.7" cy="387.6" r="2.25"/><circle cx="187.6" cy="384.5" r="2.25"/><circle cx="194.5" cy="417.7" r="2.25"/><circle cx="201.4" cy="412.8" r="2.25"/><circle cx="208.2" cy="375.6" r="2.25"/><circle cx="215.1" cy="371.7" r="2.25"/><circle cx="222.0" cy="385.6" r="2.25"/><circle cx="228.9" cy="376.0" r="2.25"/><circle cx="235.8" cy="360.9" r="2.25"/><circle cx="242.7" cy="372.8" r="2.25"/><circle cx="249.5" cy="376.3" r="2.25"/><circle cx="256.4" cy="350.1" r="2.25"/><circle cx="263.3" cy="383.5" r="2.25"/><circle cx="270.2" cy="414.5" r="2.25"/><circle cx="277.1" cy="348.6" r="2.25"/><circle cx="284.0" cy="333.1" r="2.25"/><circle cx="290.9" cy="337.2" r="2.25"/><circle cx="297.7" cy="374.0" r="2.25"/><circle cx="304.6" cy="424.7" r="2.25"/><circle cx="311.5" cy="428.2" r="2.25"/><circle cx="318.4" cy="347.4" r="2.25"/><circle cx="325.3" cy="333.0" r="2.25"/><circle cx="332.2" cy="339.3" r="2.25"/><circle cx="339.1" cy="369.8" r="2.25"/><circle cx="345.9" cy="386.2" r="2.25"/><circle cx="352.8" cy="360.0" r="2.25"/><circle cx="359.7" cy="379.9" r="2.25"/><circle cx="366.6" cy="397.4" r="2.25"/><circle cx="373.5" cy="384.5" r="2.25"/><circle cx="380.4" cy="377.1" r="2.25"/><circle cx="387.2" cy="406.0" r="2.25"/><circle cx="394.1" cy="397.9" r="2.25"/><circle cx="401.0" cy="383.4" r="2.25"/><circle cx="407.9" cy="400.5" r="2.25"/><circle cx="414.8" cy="410.7" r="2.25"/><circle cx="421.7" cy="404.8" r="2.25"/><circle cx="428.6" cy="392.9" r="2.25"/><circle cx="435.4" cy="405.5" r="2.25"/><circle cx="442.3" cy="438.6" r="2.25"/><circle cx="449.2" cy="410.5" r="2.25"/><circle cx="456.1" cy="408.8" r="2.25"/><circle cx="463.0" cy="426.7" r="2.25"/><circle cx="469.9" cy="459.0" r="2.25"/><circle cx="476.8" cy="457.7" r="2.25"/><circle cx="483.6" cy="435.2" r="2.25"/><circle cx="490.5" cy="442.9" r="2.25"/></g>
<polyline points="43.0,410.1 49.9,410.1 56.8,423.8 63.7,440.6 70.5,442.7 77.4,421.0 84.3,413.4 91.2,414.1 98.1,428.7 105.0,424.7 111.8,396.0 118.7,377.8 125.6,375.5 132.5,384.1 139.4,402.2 146.3,403.5 153.2,378.4 160.0,356.4 166.9,354.5 173.8,384.0 180.7,403.7 187.6,393.2 194.5,360.5 201.4,333.9 208.2,330.1 215.1,329.0 222.0,328.7 228.9,328.4 235.8,328.2 242.7,331.7 249.5,340.2 256.4,394.7 263.3,383.3 270.2,358.8 277.1,366.5 284.0,380.5 290.9,375.6 297.7,381.7 304.6,392.9 311.5,387.6 318.4,370.5 325.3,407.2 332.2,399.9 339.1,384.5 345.9,401.3 352.8,414.3 359.7,399.5 366.6,401.4 373.5,432.7 380.4,424.7 387.2,418.0 394.1,439.0 401.0,438.0 407.9,433.4 414.8,454.5 421.7,465.9 428.6,438.3 435.4,440.0 442.3,475.0 449.2,459.8 456.1,457.5 463.0,477.0 469.9,474.0 476.8,442.9 483.6,434.5 490.5,436.3" fill="none" stroke="#D35FB7" stroke-width="1.85" stroke-linejoin="round"/>
<g fill="#D35FB7"><circle cx="43.0" cy="410.1" r="2.25"/><circle cx="49.9" cy="410.1" r="2.25"/><circle cx="56.8" cy="423.8" r="2.25"/><circle cx="63.7" cy="440.6" r="2.25"/><circle cx="70.5" cy="442.7" r="2.25"/><circle cx="77.4" cy="421.0" r="2.25"/><circle cx="84.3" cy="413.4" r="2.25"/><circle cx="91.2" cy="414.1" r="2.25"/><circle cx="98.1" cy="428.7" r="2.25"/><circle cx="105.0" cy="424.7" r="2.25"/><circle cx="111.8" cy="396.0" r="2.25"/><circle cx="118.7" cy="377.8" r="2.25"/><circle cx="125.6" cy="375.5" r="2.25"/><circle cx="132.5" cy="384.1" r="2.25"/><circle cx="139.4" cy="402.2" r="2.25"/><circle cx="146.3" cy="403.5" r="2.25"/><circle cx="153.2" cy="378.4" r="2.25"/><circle cx="160.0" cy="356.4" r="2.25"/><circle cx="166.9" cy="354.5" r="2.25"/><circle cx="173.8" cy="384.0" r="2.25"/><circle cx="180.7" cy="403.7" r="2.25"/><circle cx="187.6" cy="393.2" r="2.25"/><circle cx="194.5" cy="360.5" r="2.25"/><circle cx="201.4" cy="333.9" r="2.25"/><circle cx="208.2" cy="330.1" r="2.25"/><circle cx="215.1" cy="329.0" r="2.25"/><circle cx="222.0" cy="328.7" r="2.25"/><circle cx="228.9" cy="328.4" r="2.25"/><circle cx="235.8" cy="328.2" r="2.25"/><circle cx="242.7" cy="331.7" r="2.25"/><circle cx="249.5" cy="340.2" r="2.25"/><circle cx="256.4" cy="394.7" r="2.25"/><circle cx="263.3" cy="383.3" r="2.25"/><circle cx="270.2" cy="358.8" r="2.25"/><circle cx="277.1" cy="366.5" r="2.25"/><circle cx="284.0" cy="380.5" r="2.25"/><circle cx="290.9" cy="375.6" r="2.25"/><circle cx="297.7" cy="381.7" r="2.25"/><circle cx="304.6" cy="392.9" r="2.25"/><circle cx="311.5" cy="387.6" r="2.25"/><circle cx="318.4" cy="370.5" r="2.25"/><circle cx="325.3" cy="407.2" r="2.25"/><circle cx="332.2" cy="399.9" r="2.25"/><circle cx="339.1" cy="384.5" r="2.25"/><circle cx="345.9" cy="401.3" r="2.25"/><circle cx="352.8" cy="414.3" r="2.25"/><circle cx="359.7" cy="399.5" r="2.25"/><circle cx="366.6" cy="401.4" r="2.25"/><circle cx="373.5" cy="432.7" r="2.25"/><circle cx="380.4" cy="424.7" r="2.25"/><circle cx="387.2" cy="418.0" r="2.25"/><circle cx="394.1" cy="439.0" r="2.25"/><circle cx="401.0" cy="438.0" r="2.25"/><circle cx="407.9" cy="433.4" r="2.25"/><circle cx="414.8" cy="454.5" r="2.25"/><circle cx="421.7" cy="465.9" r="2.25"/><circle cx="428.6" cy="438.3" r="2.25"/><circle cx="435.4" cy="440.0" r="2.25"/><circle cx="442.3" cy="475.0" r="2.25"/><circle cx="449.2" cy="459.8" r="2.25"/><circle cx="456.1" cy="457.5" r="2.25"/><circle cx="463.0" cy="477.0" r="2.25"/><circle cx="469.9" cy="474.0" r="2.25"/><circle cx="476.8" cy="442.9" r="2.25"/><circle cx="483.6" cy="434.5" r="2.25"/><circle cx="490.5" cy="436.3" r="2.25"/></g>
<polyline points="43.0,457.1 49.9,415.7 56.8,405.6 63.7,405.6 70.5,415.4 77.4,435.0 84.3,427.3 91.2,410.3 98.1,394.3 105.0,396.1 111.8,418.1 118.7,414.5 125.6,390.0 132.5,374.3 139.4,377.4 146.3,396.8 153.2,399.3 160.0,379.8 166.9,378.5 173.8,403.7 180.7,387.2 187.6,360.5 194.5,352.8 201.4,351.1 208.2,352.8 215.1,356.3 222.0,360.1 228.9,359.5 235.8,356.0 242.7,349.7 249.5,352.5 256.4,373.5 263.3,384.7 270.2,386.8 277.1,369.3 284.0,372.5 290.9,410.0 297.7,395.4 304.6,374.6 311.5,402.3 318.4,417.0 325.3,395.0 332.2,412.1 339.1,419.1 345.9,408.6 352.8,408.6 359.7,422.9 366.6,424.0 373.5,406.1 380.4,414.5 387.2,438.0 394.1,426.1 401.0,416.6 407.9,431.3 414.8,434.6 421.7,423.6 428.6,412.8 435.4,426.0 442.3,444.6 449.2,420.0 456.1,418.9 463.0,435.1 469.9,458.8 476.8,447.0 483.6,420.1 490.5,419.1" fill="none" stroke="#FF0000" stroke-width="1.85" stroke-linejoin="round" stroke-dasharray="5 1.6 2.5 1.6"/>
<g fill="#FF0000"><circle cx="43.0" cy="457.1" r="2.25"/><circle cx="49.9" cy="415.7" r="2.25"/><circle cx="56.8" cy="405.6" r="2.25"/><circle cx="63.7" cy="405.6" r="2.25"/><circle cx="70.5" cy="415.4" r="2.25"/><circle cx="77.4" cy="435.0" r="2.25"/><circle cx="84.3" cy="427.3" r="2.25"/><circle cx="91.2" cy="410.3" r="2.25"/><circle cx="98.1" cy="394.3" r="2.25"/><circle cx="105.0" cy="396.1" r="2.25"/><circle cx="111.8" cy="418.1" r="2.25"/><circle cx="118.7" cy="414.5" r="2.25"/><circle cx="125.6" cy="390.0" r="2.25"/><circle cx="132.5" cy="374.3" r="2.25"/><circle cx="139.4" cy="377.4" r="2.25"/><circle cx="146.3" cy="396.8" r="2.25"/><circle cx="153.2" cy="399.3" r="2.25"/><circle cx="160.0" cy="379.8" r="2.25"/><circle cx="166.9" cy="378.5" r="2.25"/><circle cx="173.8" cy="403.7" r="2.25"/><circle cx="180.7" cy="387.2" r="2.25"/><circle cx="187.6" cy="360.5" r="2.25"/><circle cx="194.5" cy="352.8" r="2.25"/><circle cx="201.4" cy="351.1" r="2.25"/><circle cx="208.2" cy="352.8" r="2.25"/><circle cx="215.1" cy="356.3" r="2.25"/><circle cx="222.0" cy="360.1" r="2.25"/><circle cx="228.9" cy="359.5" r="2.25"/><circle cx="235.8" cy="356.0" r="2.25"/><circle cx="242.7" cy="349.7" r="2.25"/><circle cx="249.5" cy="352.5" r="2.25"/><circle cx="256.4" cy="373.5" r="2.25"/><circle cx="263.3" cy="384.7" r="2.25"/><circle cx="270.2" cy="386.8" r="2.25"/><circle cx="277.1" cy="369.3" r="2.25"/><circle cx="284.0" cy="372.5" r="2.25"/><circle cx="290.9" cy="410.0" r="2.25"/><circle cx="297.7" cy="395.4" r="2.25"/><circle cx="304.6" cy="374.6" r="2.25"/><circle cx="311.5" cy="402.3" r="2.25"/><circle cx="318.4" cy="417.0" r="2.25"/><circle cx="325.3" cy="395.0" r="2.25"/><circle cx="332.2" cy="412.1" r="2.25"/><circle cx="339.1" cy="419.1" r="2.25"/><circle cx="345.9" cy="408.6" r="2.25"/><circle cx="352.8" cy="408.6" r="2.25"/><circle cx="359.7" cy="422.9" r="2.25"/><circle cx="366.6" cy="424.0" r="2.25"/><circle cx="373.5" cy="406.1" r="2.25"/><circle cx="380.4" cy="414.5" r="2.25"/><circle cx="387.2" cy="438.0" r="2.25"/><circle cx="394.1" cy="426.1" r="2.25"/><circle cx="401.0" cy="416.6" r="2.25"/><circle cx="407.9" cy="431.3" r="2.25"/><circle cx="414.8" cy="434.6" r="2.25"/><circle cx="421.7" cy="423.6" r="2.25"/><circle cx="428.6" cy="412.8" r="2.25"/><circle cx="435.4" cy="426.0" r="2.25"/><circle cx="442.3" cy="444.6" r="2.25"/><circle cx="449.2" cy="420.0" r="2.25"/><circle cx="456.1" cy="418.9" r="2.25"/><circle cx="463.0" cy="435.1" r="2.25"/><circle cx="469.9" cy="458.8" r="2.25"/><circle cx="476.8" cy="447.0" r="2.25"/><circle cx="483.6" cy="420.1" r="2.25"/><circle cx="490.5" cy="419.1" r="2.25"/></g>
<polyline points="43.0,414.7 49.9,427.3 56.8,458.1 63.7,458.8 70.5,428.0 77.4,417.9 84.3,418.9 91.2,432.2 98.1,462.3 105.0,440.5 111.8,411.0 118.7,414.5 125.6,432.8 132.5,426.5 139.4,406.2 146.3,402.5 153.2,416.0 160.0,429.0 166.9,413.1 173.8,412.1 180.7,419.8 187.6,409.3 194.5,391.1 201.4,399.9 208.2,409.7 215.1,406.1 222.0,395.3 228.9,407.9 235.8,407.5 242.7,375.6 249.5,371.1 256.4,384.7 263.3,391.0 270.2,384.7 277.1,360.9 284.0,353.9 290.9,349.0 297.7,349.2 304.6,350.5 311.5,351.6 318.4,355.8 325.3,368.8 332.2,415.3 339.1,439.4 345.9,418.4 352.8,373.8 359.7,380.9 366.6,397.0 373.5,407.7 380.4,394.2 387.2,382.4 394.1,386.5 401.0,412.6 407.9,422.2 414.8,413.5 421.7,398.1 428.6,404.7 435.4,425.8 442.3,433.0 449.2,412.8 456.1,415.6 463.0,435.8 469.9,454.6 476.8,455.4 483.6,458.0 490.5,471.9" fill="none" stroke="#FFC20A" stroke-width="1.85" stroke-linejoin="round"/>
<g fill="#FFC20A"><circle cx="43.0" cy="414.7" r="2.25"/><circle cx="49.9" cy="427.3" r="2.25"/><circle cx="56.8" cy="458.1" r="2.25"/><circle cx="63.7" cy="458.8" r="2.25"/><circle cx="70.5" cy="428.0" r="2.25"/><circle cx="77.4" cy="417.9" r="2.25"/><circle cx="84.3" cy="418.9" r="2.25"/><circle cx="91.2" cy="432.2" r="2.25"/><circle cx="98.1" cy="462.3" r="2.25"/><circle cx="105.0" cy="440.5" r="2.25"/><circle cx="111.8" cy="411.0" r="2.25"/><circle cx="118.7" cy="414.5" r="2.25"/><circle cx="125.6" cy="432.8" r="2.25"/><circle cx="132.5" cy="426.5" r="2.25"/><circle cx="139.4" cy="406.2" r="2.25"/><circle cx="146.3" cy="402.5" r="2.25"/><circle cx="153.2" cy="416.0" r="2.25"/><circle cx="160.0" cy="429.0" r="2.25"/><circle cx="166.9" cy="413.1" r="2.25"/><circle cx="173.8" cy="412.1" r="2.25"/><circle cx="180.7" cy="419.8" r="2.25"/><circle cx="187.6" cy="409.3" r="2.25"/><circle cx="194.5" cy="391.1" r="2.25"/><circle cx="201.4" cy="399.9" r="2.25"/><circle cx="208.2" cy="409.7" r="2.25"/><circle cx="215.1" cy="406.1" r="2.25"/><circle cx="222.0" cy="395.3" r="2.25"/><circle cx="228.9" cy="407.9" r="2.25"/><circle cx="235.8" cy="407.5" r="2.25"/><circle cx="242.7" cy="375.6" r="2.25"/><circle cx="249.5" cy="371.1" r="2.25"/><circle cx="256.4" cy="384.7" r="2.25"/><circle cx="263.3" cy="391.0" r="2.25"/><circle cx="270.2" cy="384.7" r="2.25"/><circle cx="277.1" cy="360.9" r="2.25"/><circle cx="284.0" cy="353.9" r="2.25"/><circle cx="290.9" cy="349.0" r="2.25"/><circle cx="297.7" cy="349.2" r="2.25"/><circle cx="304.6" cy="350.5" r="2.25"/><circle cx="311.5" cy="351.6" r="2.25"/><circle cx="318.4" cy="355.8" r="2.25"/><circle cx="325.3" cy="368.8" r="2.25"/><circle cx="332.2" cy="415.3" r="2.25"/><circle cx="339.1" cy="439.4" r="2.25"/><circle cx="345.9" cy="418.4" r="2.25"/><circle cx="352.8" cy="373.8" r="2.25"/><circle cx="359.7" cy="380.9" r="2.25"/><circle cx="366.6" cy="397.0" r="2.25"/><circle cx="373.5" cy="407.7" r="2.25"/><circle cx="380.4" cy="394.2" r="2.25"/><circle cx="387.2" cy="382.4" r="2.25"/><circle cx="394.1" cy="386.5" r="2.25"/><circle cx="401.0" cy="412.6" r="2.25"/><circle cx="407.9" cy="422.2" r="2.25"/><circle cx="414.8" cy="413.5" r="2.25"/><circle cx="421.7" cy="398.1" r="2.25"/><circle cx="428.6" cy="404.7" r="2.25"/><circle cx="435.4" cy="425.8" r="2.25"/><circle cx="442.3" cy="433.0" r="2.25"/><circle cx="449.2" cy="412.8" r="2.25"/><circle cx="456.1" cy="415.6" r="2.25"/><circle cx="463.0" cy="435.8" r="2.25"/><circle cx="469.9" cy="454.6" r="2.25"/><circle cx="476.8" cy="455.4" r="2.25"/><circle cx="483.6" cy="458.0" r="2.25"/><circle cx="490.5" cy="471.9" r="2.25"/></g>
<text class="tk" x="32.5" y="468.10" text-anchor="end">10</text>
<text class="tk" x="32.5" y="433.42" text-anchor="end">20</text>
<text class="tk" x="32.5" y="398.74" text-anchor="end">30</text>
<text class="tk" x="32.5" y="364.06" text-anchor="end">40</text>
<text class="tk" x="32.5" y="329.38" text-anchor="end">50</text>
<text class="tk" x="32.5" y="294.70" text-anchor="end">60</text>
<text class="tk" x="44.95" y="502.20" text-anchor="middle">15:00</text>
<text class="tk" x="86.94" y="502.20" text-anchor="middle">15:10</text>
<text class="tk" x="128.93" y="502.20" text-anchor="middle">15:20</text>
<text class="tk" x="170.92" y="502.20" text-anchor="middle">15:30</text>
<text class="tk" x="212.91" y="502.20" text-anchor="middle">15:40</text>
<text class="tk" x="254.90" y="502.20" text-anchor="middle">15:50</text>
<text class="tk" x="296.89" y="502.20" text-anchor="middle">16:00</text>
<text class="tk" x="338.88" y="502.20" text-anchor="middle">16:10</text>
<text class="tk" x="380.87" y="502.20" text-anchor="middle">16:20</text>
<text class="tk" x="422.86" y="502.20" text-anchor="middle">16:30</text>
<text class="tk" x="464.85" y="502.20" text-anchor="middle">16:40</text>
<text class="ti" x="143.60" y="268.00" textLength="208.0" lengthAdjust="spacing">simulated power for HELIX position</text>
<text class="al" transform="translate(14.10 391.20) rotate(-90)" x="-80.70" y="0" textLength="161.4" lengthAdjust="spacing">radiation patten intensity / dB</text>
<path d="M428.0 288.30H453.7" stroke="#1A85FF" stroke-width="1.60" fill="none" stroke-dasharray="1.4 1.1"/>
<circle cx="441.0" cy="288.30" r="2.25" fill="#1A85FF"/>
<text class="lg" x="466.4" y="291.95" text-anchor="middle">0°</text>
<path d="M428.0 301.17H453.7" stroke="#4B0092" stroke-width="1.85" fill="none" stroke-dasharray="5 1.6 2.5 1.6"/>
<circle cx="441.0" cy="301.17" r="2.25" fill="#4B0092"/>
<text class="lg" x="466.4" y="304.82" text-anchor="middle">0°</text>
<path d="M428.0 314.04H453.7" stroke="#D35FB7" stroke-width="1.85" fill="none"/>
<circle cx="441.0" cy="314.04" r="2.25" fill="#D35FB7"/>
<text class="lg" x="466.4" y="317.69" text-anchor="middle">90°</text>
<path d="M428.0 326.91H453.7" stroke="#FF0000" stroke-width="1.85" fill="none" stroke-dasharray="5 1.6 2.5 1.6"/>
<circle cx="441.0" cy="326.91" r="2.25" fill="#FF0000"/>
<text class="lg" x="466.4" y="330.56" text-anchor="middle">180°</text>
<path d="M428.0 339.78H453.7" stroke="#FFC20A" stroke-width="1.85" fill="none"/>
<circle cx="441.0" cy="339.78" r="2.25" fill="#FFC20A"/>
<text class="lg" x="466.4" y="343.43" text-anchor="middle">270°</text>
</g>
<text class="al" x="216.6" y="517.4" textLength="88.4" lengthAdjust="spacing">UT - 2024/05/28</text>
</svg></body></html>
